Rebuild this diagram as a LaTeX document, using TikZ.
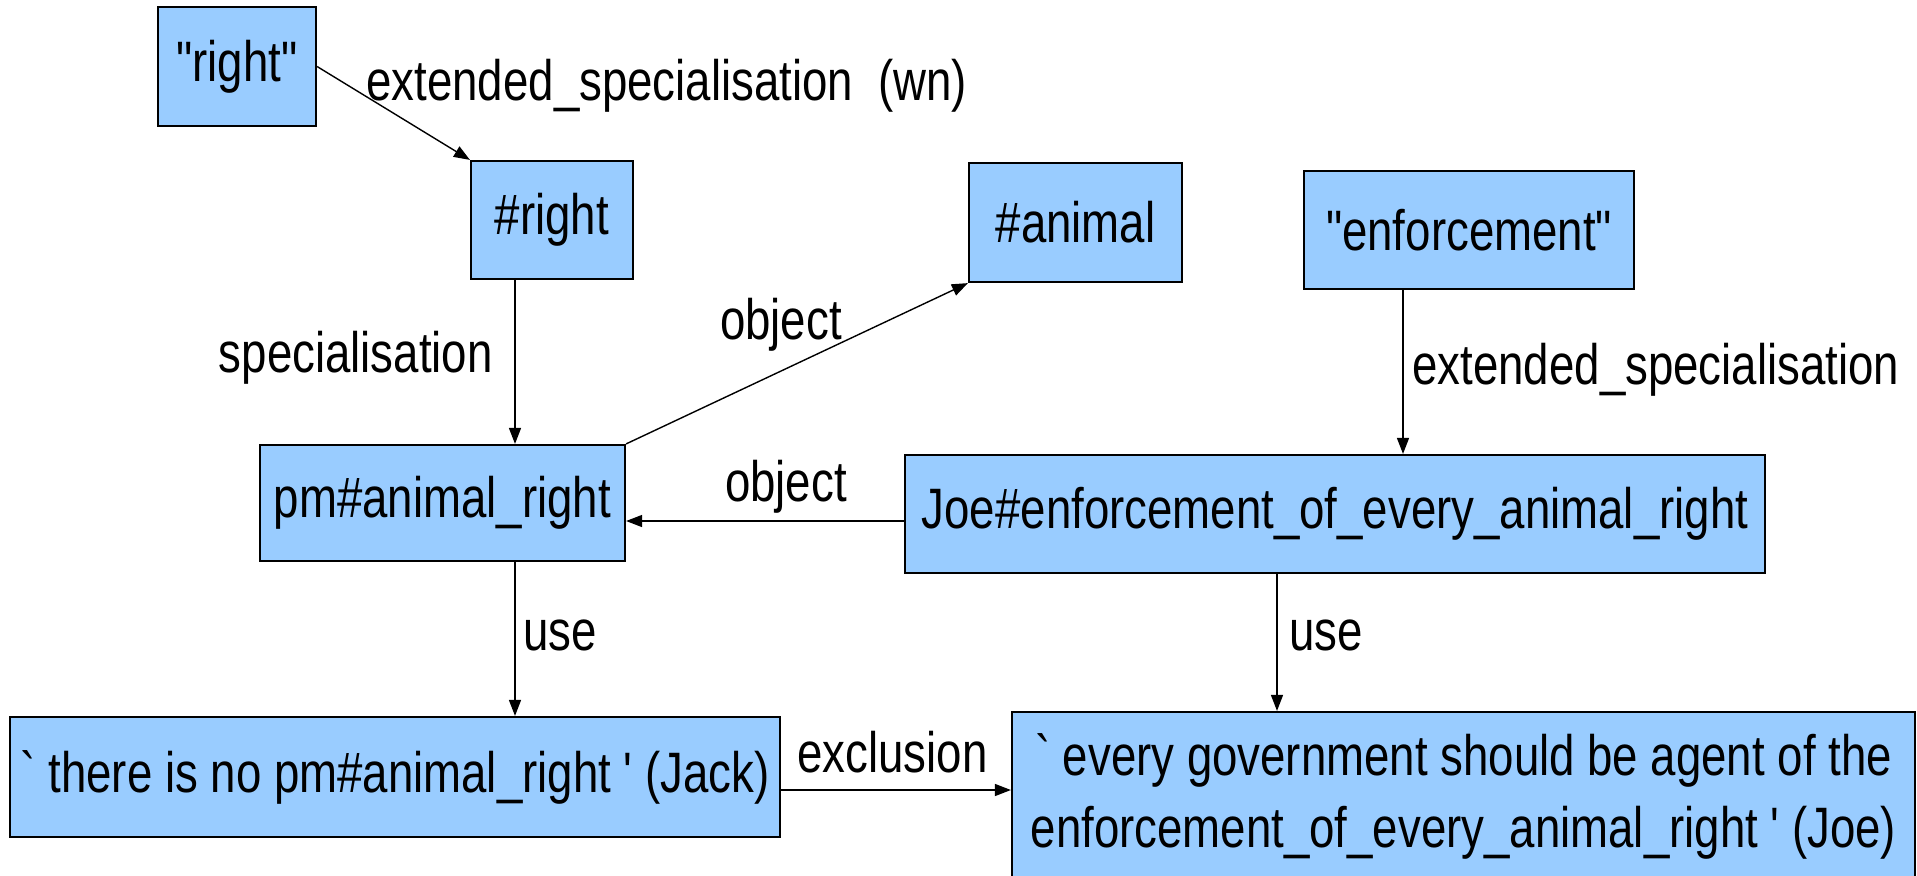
\documentclass[tikz,border=0pt]{standalone}
\usepackage{fontspec}
\setmainfont{Liberation Sans}[FakeStretch=0.8,Ligatures=TeXOff]
\usetikzlibrary{arrows.meta}
\definecolor{boxblue}{RGB}{153,204,255}
\begin{document}
\begin{tikzpicture}[x=0.5pt,y=-0.5pt,
  box/.style={draw=black, line width=1.1pt, fill=boxblue, rectangle, inner sep=0pt,
              font=\fontsize{28.5}{36}\selectfont},
  lbl/.style={inner sep=0pt, font=\fontsize{28.5}{36}\selectfont},
  arr/.style={-{Triangle[length=8pt,width=6pt]}, line width=0.7pt}]
\useasboundingbox (0,0) rectangle (1917,875);
\fill[white] (0,0) rectangle (1917,875);
\begin{scope}
\clip (0,0) rectangle (1917,875);
% nodes
\node[box, minimum width=79pt,  minimum height=59.5pt] (r1) at (237,66.5)    {"right"};
\node[box, minimum width=81pt,  minimum height=59pt] (r2) at (552,220)   {\#right};
\node[box, minimum width=106.5pt, minimum height=59.5pt] (an) at (1075.5,222.5) {\#animal};
\node[box, minimum width=165pt, minimum height=59pt] (en) at (1469,230)  {"enforcement"};
\node[box, minimum width=182.5pt, minimum height=58pt] (pm) at (442.5,503) {pm\#animal\_right};
\node[box, minimum width=430pt, minimum height=59pt] (jo) at (1335,514)  {Joe\#enforcement\_of\_every\_animal\_right};
\node[box, minimum width=385pt, minimum height=60pt] (ja) at (395,777)   {` there is no pm\#animal\_right ' (Jack)};
\node[box, minimum width=451.5pt, minimum height=84pt, align=center] (js) at (1463.5,796)
  {` every government should be agent of the\\enforcement\_of\_every\_animal\_right ' (Joe)};
% helper coordinates
\coordinate (xa) at (515,0);
\coordinate (xb) at (1403,0);
\coordinate (xc) at (1277,0);
\coordinate (ya) at (0,521);
\coordinate (yb) at (0,790);
% connectors
\draw[arr] (r1.east) -- (r2.north west);
\draw[arr] (r2.south -| xa) -- (pm.north -| xa);
\draw[arr] (pm.north east) -- (an.south west);
\draw[arr] (jo.west |- ya) -- (pm.east |- ya);
\draw[arr] (en.south -| xb) -- (jo.north -| xb);
\draw[arr] (pm.south -| xa) -- (ja.north -| xa);
\draw[arr] (jo.south -| xc) -- (js.north -| xc);
\draw[arr] (ja.east |- yb) -- (js.west |- yb);
% labels
\node[lbl, anchor=west] (l1) at (366,86) {extended\_specialisation\ \ (wn)};
\node[lbl, anchor=east] (l2) at (493,358) {specialisation};
\node[lbl] (l3) at (781,325) {object};
\node[lbl] (l4) at (786,487) {object};
\node[lbl, anchor=west] (l5) at (1412,370) {extended\_specialisation};
\node[lbl, anchor=west] (l6) at (523,635) {use};
\node[lbl, anchor=west] (l7) at (1289,635) {use};
\node[lbl, anchor=west] (l8) at (797,752) {exclusion};
\end{scope}
\end{tikzpicture}
\end{document}
